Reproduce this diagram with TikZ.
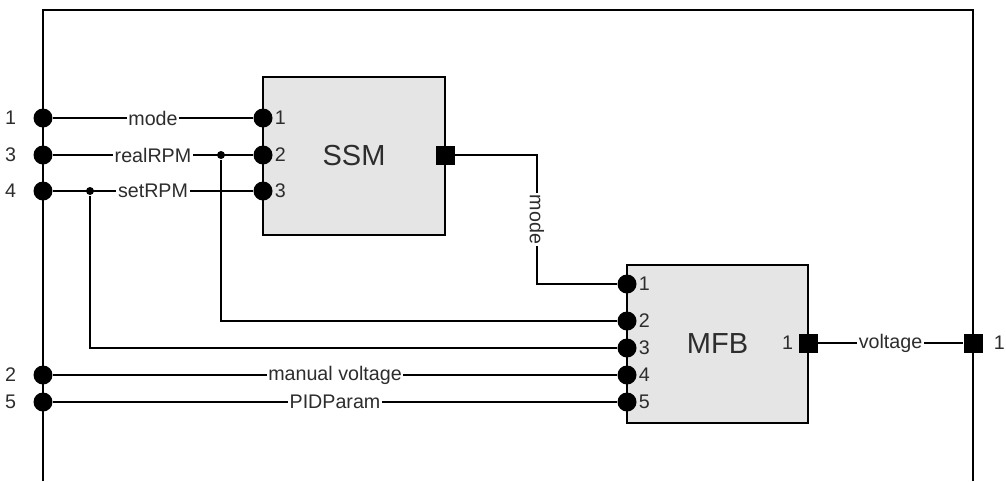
\documentclass[tikz,border=0pt]{standalone}
\usepackage{fontspec}
\setmainfont{Liberation Sans}
\usetikzlibrary{positioning}
\definecolor{blkgray}{RGB}{229,229,229}
\definecolor{txtgray}{RGB}{45,45,45}

\begin{document}
\begin{tikzpicture}[x=0.02cm,y=-0.02cm,line width=0.9pt,
  blk/.style={draw,fill=blkgray,inner sep=0,text=txtgray,font=\fontsize{16.5}{18}\selectfont},
  inport/.style={circle,fill,inner sep=0,minimum size=0.38cm},
  outport/.style={fill,inner sep=0,minimum size=0.38cm},
  jn/.style={circle,fill,inner sep=0,minimum size=0.16cm},
  lbl/.style={fill=white,inner sep=1pt,text=txtgray,font=\fontsize{11.2}{12}\selectfont},
  num/.style={inner sep=0.5pt,text=txtgray,font=\fontsize{11.2}{12}\selectfont}]
  \useasboundingbox (0,0) rectangle (1006,481);
  % outer frame
  \draw (43,481)--(43,10)--(973,10)--(973,481);
  % blocks
  \node[blk,minimum width=3.64cm,minimum height=3.16cm] (ssm) at (354,156) {SSM};
  \node[blk,minimum width=3.62cm,minimum height=3.16cm] (mfb) at (717.5,344) {MFB};
  % frame inputs
  \node[inport,label={[num,label distance=0.3cm]left:1}] (in1) at (43,118) {};
  \node[inport,label={[num,label distance=0.3cm]left:3}] (in3) at (43,155) {};
  \node[inport,label={[num,label distance=0.3cm]left:4}] (in4) at (43,191) {};
  \node[inport,label={[num,label distance=0.3cm]left:2}] (in2) at (43,375) {};
  \node[inport,label={[num,label distance=0.3cm]left:5}] (in5) at (43,402) {};
  % SSM ports
  \node[inport,label={[num,label distance=0cm]right:1}] (s1) at (263,118) {};
  \node[inport,label={[num,label distance=0cm]right:2}] (s2) at (263,155) {};
  \node[inport,label={[num,label distance=0cm]right:3}] (s3) at (263,191) {};
  \node[outport] (so) at (445,155) {};
  % MFB ports
  \node[inport,label={[num,label distance=0cm]right:1}] (m1) at (627,284) {};
  \node[inport,label={[num,label distance=0cm]right:2}] (m2) at (627,321) {};
  \node[inport,label={[num,label distance=0cm]right:3}] (m3) at (627,348) {};
  \node[inport,label={[num,label distance=0cm]right:4}] (m4) at (627,375) {};
  \node[inport,label={[num,label distance=0cm]right:5}] (m5) at (627,402) {};
  \node[outport,label={[num,label distance=0.06cm]left:1}] (mo) at (808,343) {};
  % frame output
  \node[outport,label={[num,label distance=0.18cm]right:1}] (out1) at (973,343) {};
  % junctions and bends
  \node[jn] (j1) at (221,155) {};
  \node[jn] (j2) at (90,191) {};
  \coordinate (k1) at (537,155);
  \coordinate (k2) at (537,284);
  % signals
  \draw (in1)--node[lbl]{mode} (s1);
  \draw (in3)--node[lbl]{realRPM} (s2);
  \draw (in4)--node[lbl]{setRPM} (s3);
  \draw (j1)|-(m2);
  \draw (j2)|-(m3);
  \draw (so)--(k1)--node[lbl,rotate=-90]{mode} (k2)--(m1);
  \draw (in2)--node[lbl]{manual voltage} (m4);
  \draw (in5)--node[lbl]{PIDParam} (m5);
  \draw (mo)--node[lbl]{voltage} (out1);
\end{tikzpicture}
\end{document}
